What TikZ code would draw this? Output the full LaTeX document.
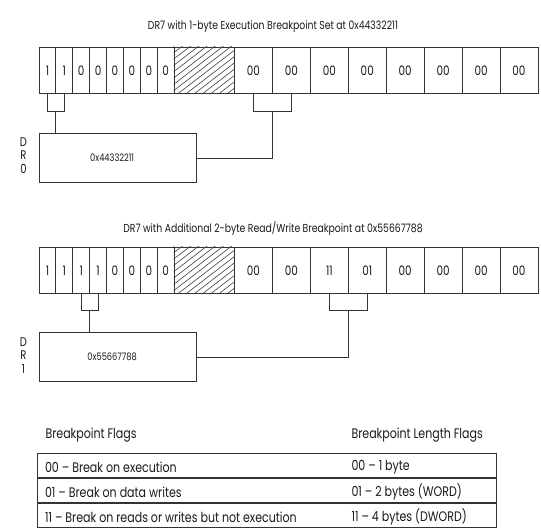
\documentclass[tikz,border=0pt]{standalone}
\usepackage{fontspec}
\setmainfont{Poppins}[FakeStretch=0.8]
\usetikzlibrary{calc,positioning}

\tikzset{
  every node/.style={text=black!90,font=\fontsize{13}{15}\selectfont},
  titletext/.style={font=\fontsize{11.6}{13}\selectfont},
  tabletext/.style={anchor=west,font=\fontsize{13.8}{15}\selectfont},
  hextext/.style={font=\fontsize{10.3}{13}\selectfont},
  bitcell/.style={draw=black!80,line width=.8pt,minimum width=16.89pt,minimum height=46.6pt,inner sep=0pt},
  fieldcell/.style={bitcell,minimum width=37.93pt},
  gapcell/.style={bitcell,minimum width=60.4pt},
  regbox/.style={draw=black!80,line width=.8pt,minimum width=156.9pt,minimum height=49pt,inner sep=0pt},
  rowbox/.style={draw=black!80,line width=.8pt,minimum width=459.7pt,minimum height=24.2pt,inner sep=0pt},
  wire/.style={draw=black!80,line width=.8pt}
}

\begin{document}
\begin{tikzpicture}[x=1pt,y=-1pt]
				\useasboundingbox (0,0) rectangle (541,530);
				%% first register: bits, reserved part, 2-bit fields
				\node[titletext] (t1) at (273,27){DR7 with 1-byte Execution Breakpoint Set at 0x44332211};
				\foreach \v [count=\i] in {1,1,0,0,0,0,0,0}{
					\node[bitcell] (a\i) at (39+16.89*\i-8.445, 70.5){\v};
					}
				\node[gapcell] (ah) at (204.3, 70.5){};
				\foreach \v [count=\i] in {00,00,00,00,00,00,00,00}{
					\node[fieldcell] (af\i) at (234.5+37.93*\i-18.965, 70.5){\v};
					}
				%% second register
				\node[titletext] (t2) at (273,228.3){DR7 with Additional 2-byte Read/Write Breakpoint at 0x55667788};
				\foreach \v [count=\i] in {1,1,1,1,0,0,0,0}{
					\node[bitcell] (b\i) at (39+16.89*\i-8.445, 270.5){\v};
					}
				\node[gapcell] (bh) at (204.3, 270.5){};
				\foreach \v [count=\i] in {00,00,11,01,00,00,00,00}{
					\node[fieldcell] (bf\i) at (234.5+37.93*\i-18.965, 270.5){\v};
					}

				%% hatching of the reserved parts
				\foreach \h in {ah, bh}{
					\begin{scope}
					\clip (\h.south west) rectangle (\h.north east);
					\foreach \s in {-62,-53.8,...,62}{
						\draw[black!75,line width=.6pt] ($(\h.south west)+(\s,0)$) -- ++(64,-49.3);
						}
					\end{scope}
					}

				%% address registers
				\node[regbox] (dr0) at (118.15,157.9){};
				\node[regbox] (dr1) at (118.15,357.2){};
				\node[hextext] (dr0val) at ($(dr0.center)+(-6,0)$){0x44332211};
				\node[hextext] (dr1val) at ($(dr1.center)+(-6,0)$){0x55667788};
				\node[align=center,inner sep=0pt,font=\fontsize{12.5}{13.5}\selectfont] (dr0lbl) at (23.4,155.5){D\\R\\0};
				\node[align=center,inner sep=0pt,font=\fontsize{12.5}{13.5}\selectfont] (dr1lbl) at (23.4,355.2){D\\R\\1};

				%% brackets
				\coordinate (k1) at ($(a1.south)!.5!(a2.south)+(0,17)$);
				\coordinate (k2) at ($(af1.south)!.5!(af2.south)+(0,17)$);
				\coordinate (k3) at ($(b3.south)!.5!(b4.south)+(0,16.5)$);
				\coordinate (k4) at ($(bf3.south)!.5!(bf4.south)+(0,16.5)$);
				\draw[wire] (a1.south) |- (k1) -| (a2.south);
				\draw[wire] (k1) -- (k1 |- dr0.north);
				\draw[wire] (af1.south) |- (k2) -| (af2.south);
				\draw[wire] (k2) |- (dr0.east);
				\draw[wire] (b3.south) |- (k3) -| (b4.south);
				\draw[wire] (k3) -- (k3 |- dr1.north);
				\draw[wire] (bf3.south) |- (k4) -| (bf4.south);
				\draw[wire] (k4) |- (dr1.east);

				%% legend table
				\node[tabletext] (hd1) at (42,435.5){Breakpoint Flags};
				\node[tabletext] (hd2) at (348,435.5){Breakpoint Length Flags};
				\node[rowbox] (r1) at (266.75,465.4){};
				\node[rowbox,below=0pt of r1] (r2){};
				\node[rowbox,below=0pt of r2] (r3){};
				\node[tabletext] (f1) at ($(r1.west)+(5,1.5)$){00 -- Break on execution};
				\node[tabletext] (f2) at ($(r2.west)+(5,1.5)$){01 -- Break on data writes};
				\node[tabletext] (f3) at ($(r3.west)+(5,1.5)$){11 -- Break on reads or writes but not execution};
				\node[tabletext] (l1) at ($(r1.center -| hd2.west)+(0,1.5)$){00 -- 1 byte};
				\node[tabletext] (l2) at ($(r2.center -| hd2.west)+(0,1.5)$){01 -- 2 bytes (WORD)};
				\node[tabletext] (l3) at ($(r3.center -| hd2.west)+(0,1.5)$){11 -- 4 bytes (DWORD)};
\end{tikzpicture}
\end{document}
